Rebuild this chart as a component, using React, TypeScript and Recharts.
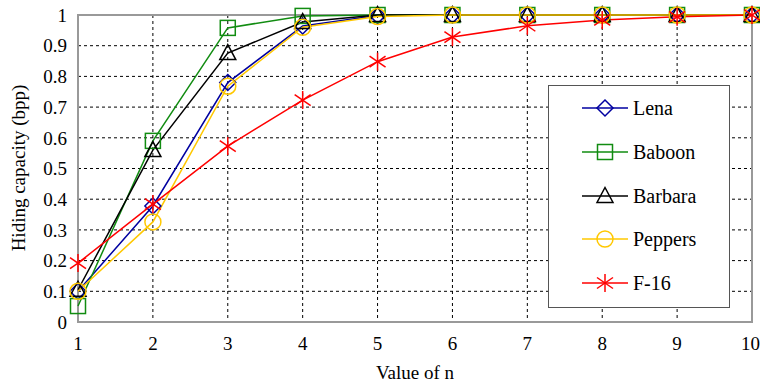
import React from 'react';
import {
  LineChart, Line, XAxis, YAxis, CartesianGrid, Legend, ReferenceArea,
} from 'recharts';

// values
const N_VALUES = [1, 2, 3, 4, 5, 6, 7, 8, 9, 10];
const LENA = [0.1, 0.378, 0.78, 0.964, 0.998, 1, 1, 1, 1, 1];
const BABOON = [0.052, 0.59, 0.958, 0.997, 1, 1, 1, 1, 1, 1];
const BARBARA = [0.105, 0.56, 0.876, 0.977, 1, 1, 1, 1, 1, 1];
const PEPPERS = [0.1, 0.326, 0.768, 0.96, 0.995, 1, 1, 1, 1, 1];
const F16 = [0.192, 0.384, 0.573, 0.723, 0.848, 0.928, 0.965, 0.984, 0.994, 1];

const X_TICKS = [1, 2, 3, 4, 5, 6, 7, 8, 9, 10];
const Y_TICKS = [0, 0.1, 0.2, 0.3, 0.4, 0.5, 0.6, 0.7, 0.8, 0.9, 1];

const SERIES = [
  { key: 'lena', name: 'Lena', color: '#0000a0', shape: 'diamond', values: LENA },
  { key: 'baboon', name: 'Baboon', color: '#118c11', shape: 'square', values: BABOON },
  { key: 'barbara', name: 'Barbara', color: '#000000', shape: 'triangle', values: BARBARA },
  { key: 'peppers', name: 'Peppers', color: '#ffc800', shape: 'circle', values: PEPPERS },
  { key: 'f16', name: 'F-16', color: '#ff0000', shape: 'star', values: F16 },
];

const data = N_VALUES.map((n, i) => {
  const row: any = { n };
  SERIES.forEach(s => { row[s.key] = s.values[i]; });
  return row;
});

const FONT = '"Liberation Serif", "Times New Roman", serif';

function Marker({ cx, cy, shape, color }: { cx: number; cy: number; shape: string; color: string }) {
  const common = { fill: 'none', stroke: color, strokeWidth: 1.5 };
  if (shape === 'diamond') {
    return <polygon points={`${cx},${cy - 8} ${cx + 8},${cy} ${cx},${cy + 8} ${cx - 8},${cy}`} {...common} />;
  }
  if (shape === 'square') {
    return <rect x={cx - 7.5} y={cy - 7.5} width={15} height={15} {...common} />;
  }
  if (shape === 'triangle') {
    return <polygon points={`${cx},${cy - 8.5} ${cx + 8},${cy + 6.5} ${cx - 8},${cy + 6.5}`} {...common} />;
  }
  if (shape === 'circle') {
    return <circle cx={cx} cy={cy} r={8} {...common} />;
  }
  return (
    <g {...common}>
      <line x1={cx} y1={cy - 9} x2={cx} y2={cy + 9} />
      <line x1={cx - 8} y1={cy - 5.5} x2={cx + 8} y2={cy + 5.5} />
      <line x1={cx - 8} y1={cy + 5.5} x2={cx + 8} y2={cy - 5.5} />
    </g>
  );
}

const renderLegend = () => (
  <div style={{
    position: 'relative', width: 182, height: 223, boxSizing: 'border-box',
    border: '1.5px solid #555', background: '#fff', fontFamily: FONT,
  }}>
    {SERIES.map((s, i) => (
      <div key={s.key} style={{ position: 'absolute', left: 0, top: 22 + i * 43.75 - 12, height: 24, width: '100%' }}>
        <svg width={50} height={24} style={{ position: 'absolute', left: 31, top: 0 }}>
          <line x1={2} y1={12} x2={48} y2={12} stroke={s.color} strokeWidth={1.5} />
          <Marker cx={25} cy={12} shape={s.shape} color={s.color} />
        </svg>
        <span style={{ position: 'absolute', left: 84, top: 0, lineHeight: '24px', fontSize: 20, color: '#000' }}>
          {s.name}
        </span>
      </div>
    ))}
  </div>
);

export default function App() {
  return (
    <div style={{ position: 'absolute', left: 0, top: 0, width: 760, height: 383, background: '#fff', fontFamily: FONT }}>
      <LineChart width={760} height={383} data={data} margin={{ top: 15, right: 8, left: 0, bottom: 0 }}>
        <CartesianGrid stroke="#000" strokeDasharray="3 3" strokeWidth={1} />
        <ReferenceArea x1={1} x2={10} y1={0} y2={1} fill="none" stroke="#999" strokeWidth={2} />
        <XAxis
          dataKey="n" type="number" domain={[1, 10]} ticks={X_TICKS}
          axisLine={false} tickLine={false} tickSize={0} tickMargin={15} height={61}
          tick={{ fill: '#000', fontSize: 19 }}
          label={{ value: 'Value of n', position: 'insideBottom', offset: 4, fill: '#000', fontSize: 19 }}
        />
        <YAxis
          type="number" domain={[0, 1]} ticks={Y_TICKS} width={78}
          axisLine={false} tickLine={false} tickSize={0} tickMargin={11}
          tick={{ fill: '#000', fontSize: 19 }}
          label={{
            content: () => (
              <text x={18} y={168} transform="rotate(-90, 18, 168)" textAnchor="middle"
                dominantBaseline="central" fill="#000" fontSize={19}>
                Hiding capacity (bpp)
              </text>
            ),
          }}
        />
        <Legend
          layout="horizontal" verticalAlign="middle" align="center"
          content={renderLegend}
          wrapperStyle={{ position: 'absolute', left: 548, top: 85, width: 182, height: 223 }}
        />
        {SERIES.map(s => (
          <Line
            key={s.key}
            dataKey={s.key}
            name={s.name}
            stroke={s.color}
            strokeWidth={1.5}
            isAnimationActive={false}
            activeDot={false}
            dot={(p: any) => <Marker key={`${s.key}-${p.index}`} cx={p.cx} cy={p.cy} shape={s.shape} color={s.color} />}
          />
        ))}
      </LineChart>
    </div>
  );
}
